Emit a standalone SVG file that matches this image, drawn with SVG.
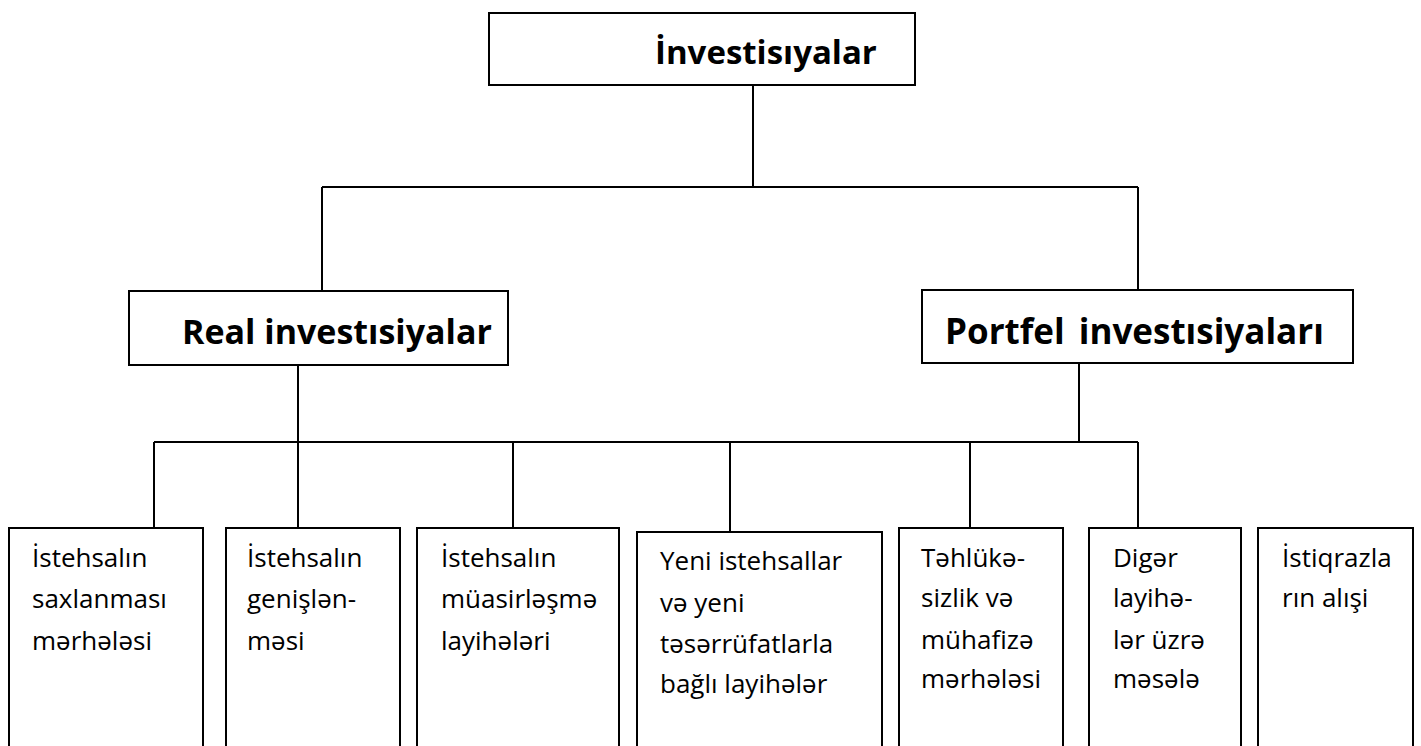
<svg xmlns="http://www.w3.org/2000/svg" width="1421" height="746" viewBox="0 0 1421 746">
<style>
.box{fill:#fff;stroke:#000;stroke-width:2}
.ln{fill:none;stroke:#000;stroke-width:2}
.h{font-family:"Open Sans",Lato,sans-serif;font-weight:bold;font-size:34px;fill:#000}
.t{font-family:"Open Sans",Lato,sans-serif;font-size:26px;fill:#000}
</style>
<rect width="1421" height="746" fill="#fff"/>
<g id="connectors">
<path class="ln" d="M753,85 V187 M322,187 H1138 M322,187 V291 M1138,187 V290"/>
<path class="ln" d="M298,365 V442 M1079,363 V442 M154,442 H1138"/>
<path class="ln" d="M154,442 V528 M298,442 V528 M513,442 V528 M730,442 V532 M970,442 V528 M1138,442 V528"/>
</g>
<g id="n-root"><rect class="box" x="489" y="13" width="426" height="72"/><text class="h" x="655" y="64" style="font-size:33px">İnvestisıyalar</text></g>
<g id="n-real"><rect class="box" x="129" y="291" width="379" height="74"/><text class="h" x="182" y="344">Real investısiyalar</text></g>
<g id="n-portfel"><rect class="box" x="922" y="290" width="431" height="73"/><text class="h" x="945" y="344" style="font-size:35px;word-spacing:5px">Portfel investısiyaları</text></g>
<g id="n1"><rect class="box" x="9" y="528" width="194" height="240"/><text class="t"><tspan x="32" y="567">İstehsalın</tspan><tspan x="32" y="608">saxlanması</tspan><tspan x="32" y="650">mərhələsi</tspan></text></g>
<g id="n2"><rect class="box" x="226" y="528" width="174" height="240"/><text class="t"><tspan x="247" y="567">İstehsalın</tspan><tspan x="247" y="608">genişlən-</tspan><tspan x="247" y="650">məsi</tspan></text></g>
<g id="n3"><rect class="box" x="417" y="528" width="202" height="240"/><text class="t"><tspan x="441" y="567">İstehsalın</tspan><tspan x="441" y="608">müasirləşmə</tspan><tspan x="441" y="650">layihələri</tspan></text></g>
<g id="n4"><rect class="box" x="637" y="532" width="245" height="240"/><text class="t"><tspan x="660" y="570">Yeni istehsallar</tspan><tspan x="660" y="612">və yeni</tspan><tspan x="660" y="653">təsərrüfatlarla</tspan><tspan x="660" y="693">bağlı layihələr</tspan></text></g>
<g id="n5"><rect class="box" x="899" y="528" width="164" height="240"/><text class="t"><tspan x="921" y="567">Təhlükə-</tspan><tspan x="921" y="607">sizlik və</tspan><tspan x="921" y="649">mühafizə</tspan><tspan x="921" y="688">mərhələsi</tspan></text></g>
<g id="n6"><rect class="box" x="1089" y="528" width="152" height="240"/><text class="t"><tspan x="1113" y="567">Digər</tspan><tspan x="1113" y="607">layihə-</tspan><tspan x="1113" y="649">lər üzrə</tspan><tspan x="1113" y="688">məsələ</tspan></text></g>
<g id="n7"><rect class="box" x="1258" y="528" width="155" height="240"/><text class="t"><tspan x="1282" y="567">İstiqrazla</tspan><tspan x="1282" y="607">rın alışi</tspan></text></g>
</svg>
